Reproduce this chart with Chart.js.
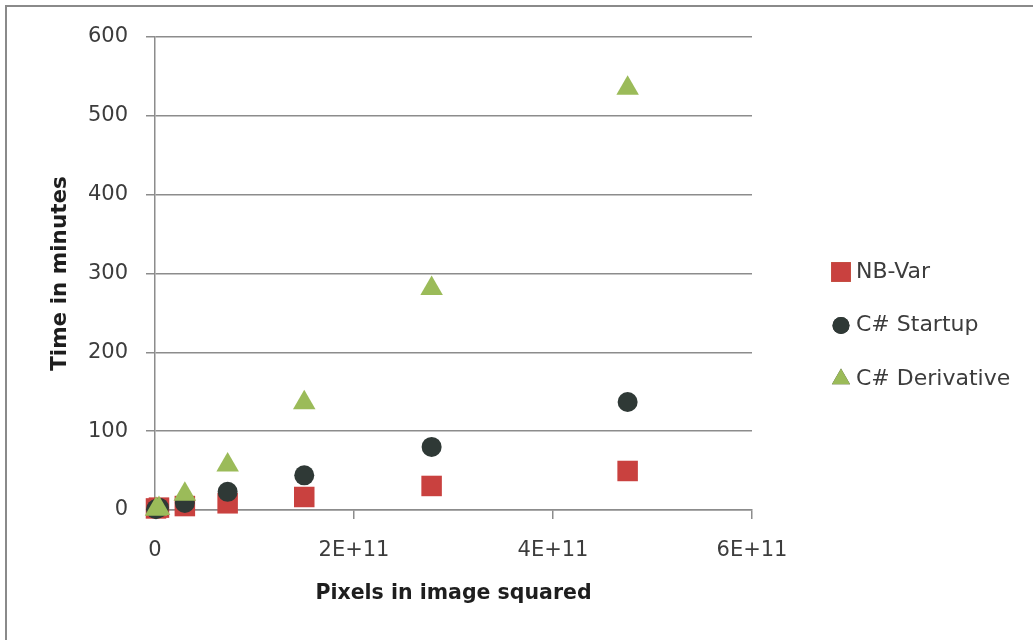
<!DOCTYPE html>
<html>
<head>
<meta charset="utf-8">
<script src="https://cdn.jsdelivr.net/npm/chart.js@4.4.1/dist/chart.umd.min.js"></script>
<style>
  html, body { margin: 0; padding: 0; background: #ffffff; }
  #wrap { position: relative; width: 1033px; height: 640px; }
</style>
</head>
<body>
<div id="wrap"><canvas id="chart" width="1033" height="640"></canvas></div>
<script>
// Image size (pixels squared) and run times in minutes for each method
const pixelsSquared     = [1e9, 4e9, 3.0e10, 7.3e10, 1.5e11, 2.78e11, 4.75e11];
const nbVarMinutes      = [2, 3, 5, 8.5, 16.5, 30.5, 49.5];
const startupMinutes    = [1, 3, 9, 23, 44, 80, 137];
const derivativeMinutes = [1, 2, 20, 57, 136, 281, 535];

const seriesNames = ['NB-Var', 'C# Startup', 'C# Derivative'];
const xTickLabels = ['0', '2E+11', '4E+11', '6E+11'];
const yTickLabels = ['0', '100', '200', '300', '400', '500', '600'];

const toPoints = ys => pixelsSquared.map((x, i) => ({ x: x, y: ys[i] }));

const GRID = '#8c8c8c';
const TICK_FONT = { family: 'DejaVu Sans', size: 21 };
const TEXT = '#3c3c3c';

// Frame around the chart and a legend in the right-hand margin
const framePlugin = {
  id: 'frame',
  beforeDraw(chart) {
    const ctx = chart.ctx;
    ctx.save();
    ctx.fillStyle = '#ffffff';
    ctx.fillRect(0, 0, chart.width, chart.height);
    ctx.strokeStyle = '#8a8a8a';
    ctx.lineWidth = 2;
    ctx.beginPath();
    ctx.moveTo(6, chart.height + 2);
    ctx.lineTo(6, 6);
    ctx.lineTo(chart.width + 2, 6);
    ctx.stroke();
    ctx.restore();
  }
};

const legendPlugin = {
  id: 'sideLegend',
  afterDraw(chart, args, opts) {
    const ctx = chart.ctx;
    ctx.save();
    chart.data.datasets.forEach((ds, i) => {
      const y = opts.top + i * opts.gap;
      Chart.helpers.drawPoint(ctx, {
        pointStyle: ds.pointStyle,
        radius: ds.legendRadius,
        borderWidth: 0
      }, opts.markerX, y);
      ctx.fillStyle = ds.backgroundColor;
      ctx.fill();
      ctx.fillStyle = TEXT;
      ctx.font = '22px "DejaVu Sans"';
      ctx.textBaseline = 'middle';
      ctx.textAlign = 'left';
      ctx.fillText(ds.label, opts.textX, y);
    });
    ctx.restore();
  }
};

new Chart(document.getElementById('chart'), {
  type: 'scatter',
  data: {
    datasets: [
      {
        label: seriesNames[0],
        data: toPoints(nbVarMinutes),
        pointStyle: 'rect',
        pointRadius: 14.5,
        legendRadius: 14,
        backgroundColor: '#c9413f',
        borderColor: '#c9413f',
        borderWidth: 0,
        order: 3,
        clip: false
      },
      {
        label: seriesNames[1],
        data: toPoints(startupMinutes),
        pointStyle: 'circle',
        pointRadius: 10,
        legendRadius: 8.5,
        backgroundColor: '#2f3936',
        borderColor: '#2f3936',
        borderWidth: 0,
        order: 2,
        clip: false
      },
      {
        label: seriesNames[2],
        data: toPoints(derivativeMinutes),
        pointStyle: 'triangle',
        pointRadius: 13,
        legendRadius: 10.5,
        backgroundColor: '#9bbb59',
        borderColor: '#9bbb59',
        borderWidth: 0,
        order: 1,
        clip: false
      }
    ]
  },
  options: {
    responsive: false,
    animation: false,
    events: [],
    layout: { padding: { top: 37, right: 281, bottom: 0, left: 0 } },
    plugins: {
      legend: { display: false },
      tooltip: { enabled: false },
      sideLegend: { markerX: 841, textX: 856, top: 272, gap: 53.5 }
    },
    scales: {
      x: {
        type: 'linear',
        min: 0,
        max: 6e11,
        afterFit(scale) { scale.height = 130; },
        afterBuildTicks(scale) {
          scale.ticks = xTickLabels.map((_, i) => ({ value: i * 2e11 }));
        },
        ticks: {
          font: TICK_FONT,
          color: TEXT,
          padding: 19,
          maxRotation: 0,
          callback: (v, i) => xTickLabels[i]
        },
        grid: {
          drawOnChartArea: false,
          drawTicks: true,
          tickLength: 9,
          color: GRID,
          lineWidth: 1.5
        },
        border: { display: true, color: GRID, width: 1.5 },
        title: {
          display: true,
          text: 'Pixels in image squared',
          font: { family: 'DejaVu Sans', size: 20.5, weight: 'bold' },
          color: '#1e1e1e',
          padding: { top: 0, bottom: 34 }
        }
      },
      y: {
        type: 'linear',
        min: 0,
        max: 600,
        afterFit(scale) { scale.width = 155; },
        afterBuildTicks(scale) {
          scale.ticks = yTickLabels.map(t => ({ value: Number(t) }));
        },
        ticks: {
          font: TICK_FONT,
          color: TEXT,
          padding: 18,
          callback: (v, i) => yTickLabels[i]
        },
        grid: {
          drawTicks: true,
          tickLength: 9,
          color: GRID,
          lineWidth: 1.5
        },
        border: { display: true, color: GRID, width: 1.5 },
        title: {
          display: true,
          text: 'Time in minutes',
          font: { family: 'DejaVu Sans', size: 21.5, weight: 'bold' },
          color: '#1e1e1e',
          padding: { top: 48, bottom: 0 }
        }
      }
    }
  },
  plugins: [framePlugin, legendPlugin]
});
</script>
</body>
</html>
